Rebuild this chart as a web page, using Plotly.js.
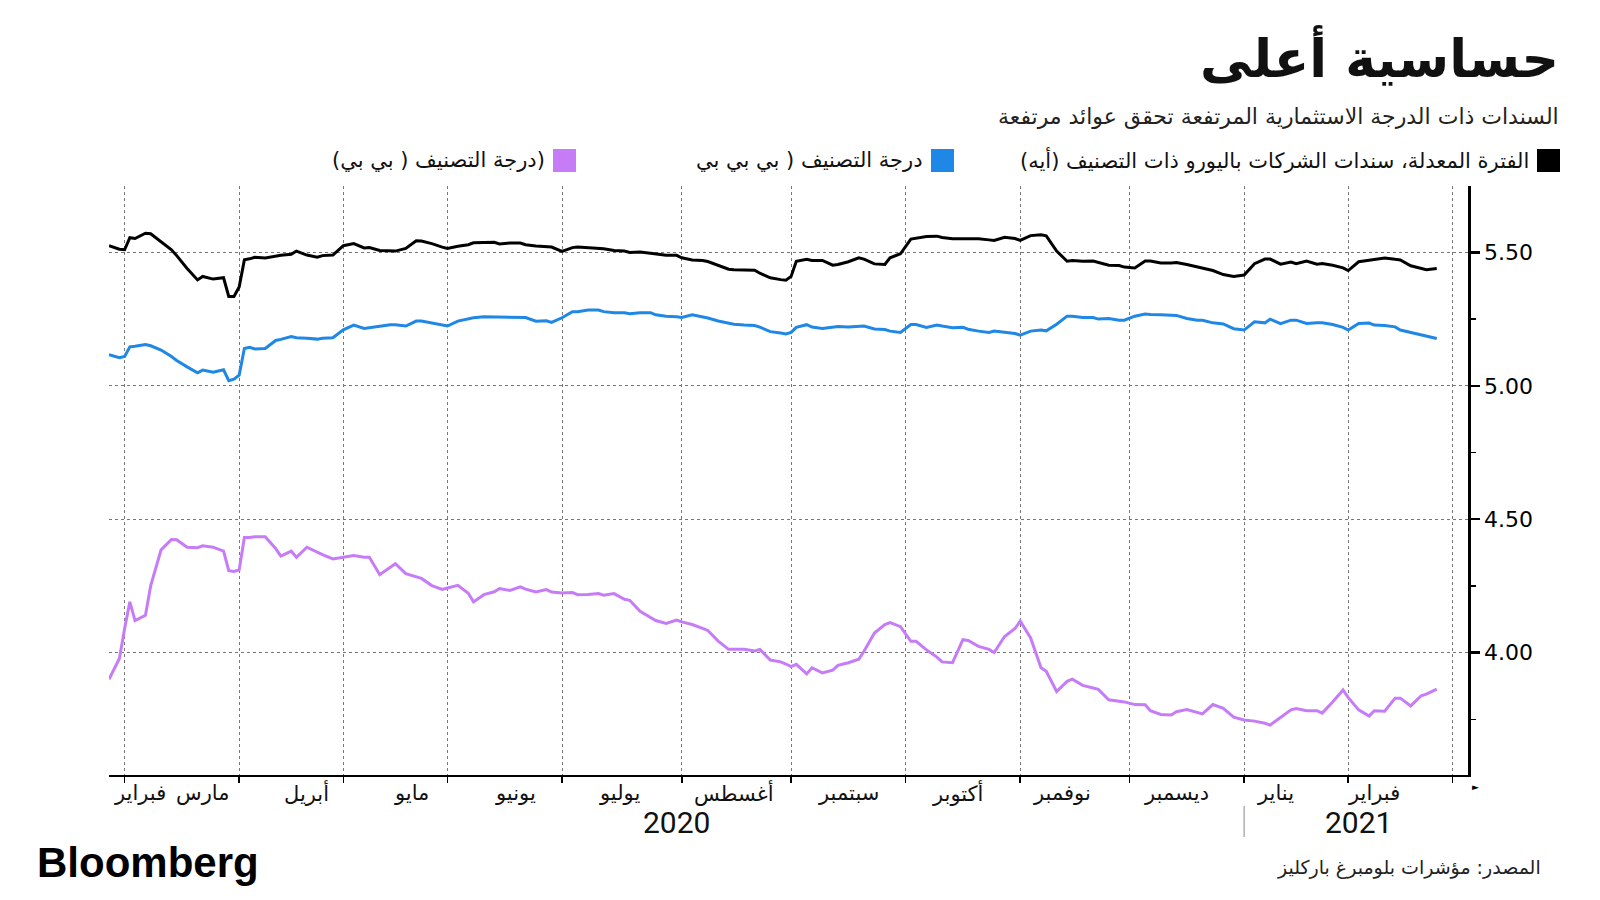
<!DOCTYPE html>
<html>
<head>
<meta charset="utf-8">
<script src="https://cdn.plot.ly/plotly-3.0.1.min.js"></script>
<style>
  html, body { margin: 0; padding: 0; background: #fff; }
  #chart { width: 1600px; height: 900px; }
</style>
</head>
<body>
<div id="chart"></div>
<script>
const dates = [
  '2020-02-26','2020-02-28',
  '2020-03-02','2020-03-03','2020-03-04','2020-03-06','2020-03-09','2020-03-11','2020-03-13','2020-03-16','2020-03-18','2020-03-20','2020-03-23','2020-03-25','2020-03-27','2020-03-30','2020-03-31',
  '2020-04-01','2020-04-02','2020-04-03','2020-04-06','2020-04-08','2020-04-14','2020-04-15','2020-04-17','2020-04-20','2020-04-22','2020-04-24','2020-04-27','2020-04-29',
  '2020-05-04','2020-05-06','2020-05-08','2020-05-11','2020-05-13','2020-05-15','2020-05-18','2020-05-20','2020-05-22','2020-05-25','2020-05-27','2020-05-29',
  '2020-06-01','2020-06-03','2020-06-05','2020-06-08','2020-06-10','2020-06-12','2020-06-15','2020-06-17','2020-06-19','2020-06-22','2020-06-24','2020-06-26','2020-06-29',
  '2020-07-01','2020-07-03','2020-07-06','2020-07-08','2020-07-10','2020-07-13','2020-07-15','2020-07-17','2020-07-20','2020-07-22','2020-07-24','2020-07-27','2020-07-29','2020-07-31',
  '2020-08-03','2020-08-05','2020-08-07','2020-08-10','2020-08-12','2020-08-14','2020-08-17','2020-08-19','2020-08-21','2020-08-24','2020-08-26','2020-08-28','2020-08-31',
  '2020-09-01','2020-09-02','2020-09-04','2020-09-07','2020-09-09','2020-09-11','2020-09-14','2020-09-16','2020-09-18','2020-09-21','2020-09-23','2020-09-25','2020-09-28','2020-09-30',
  '2020-10-02','2020-10-05','2020-10-07','2020-10-09','2020-10-12','2020-10-14','2020-10-16','2020-10-19','2020-10-21','2020-10-23','2020-10-26','2020-10-28','2020-10-30',
  '2020-11-02','2020-11-04','2020-11-06','2020-11-09','2020-11-11','2020-11-13','2020-11-16','2020-11-18','2020-11-20','2020-11-23','2020-11-25','2020-11-27','2020-11-30',
  '2020-12-02','2020-12-04','2020-12-07','2020-12-09','2020-12-11','2020-12-14','2020-12-16','2020-12-18','2020-12-21','2020-12-23','2020-12-28','2020-12-30',
  '2021-01-04','2021-01-06','2021-01-08','2021-01-11','2021-01-13','2021-01-15','2021-01-18','2021-01-20','2021-01-22','2021-01-25','2021-01-27','2021-01-29',
  '2021-02-01','2021-02-03','2021-02-05','2021-02-08','2021-02-10','2021-02-12','2021-02-15','2021-02-17','2021-02-19','2021-02-22','2021-02-24'
];

// A rated
const ratedA = [
  5.525, 5.512,
  5.51, 5.555, 5.552, 5.572, 5.57, 5.54, 5.51, 5.488, 5.44, 5.397, 5.41, 5.40, 5.405, 5.335, 5.335,
  5.37, 5.472, 5.476, 5.482, 5.479, 5.487, 5.489, 5.493, 5.505, 5.49, 5.482, 5.488, 5.49,
  5.525, 5.533, 5.517, 5.518, 5.507, 5.507, 5.505, 5.515, 5.544, 5.543, 5.533, 5.52,
  5.515, 5.523, 5.529, 5.536, 5.536, 5.538, 5.532, 5.535, 5.535, 5.529, 5.524, 5.52, 5.52,
  5.504, 5.518, 5.52, 5.518, 5.517, 5.514, 5.507, 5.505, 5.5, 5.502, 5.497, 5.494, 5.489, 5.489,
  5.48, 5.472, 5.47, 5.466, 5.451, 5.437, 5.435, 5.433, 5.433, 5.422, 5.405, 5.398, 5.396,
  5.41, 5.467, 5.474, 5.47, 5.47, 5.452, 5.455, 5.465, 5.48, 5.475, 5.457, 5.455, 5.48, 5.495,
  5.55, 5.554, 5.56, 5.561, 5.556, 5.551, 5.551, 5.551, 5.551, 5.547, 5.545, 5.557, 5.552,
  5.545, 5.563, 5.566, 5.562, 5.505, 5.467, 5.47, 5.467, 5.468, 5.462, 5.452, 5.451, 5.445,
  5.442, 5.468, 5.468, 5.46, 5.46, 5.462, 5.455, 5.446, 5.443, 5.432, 5.417, 5.41,
  5.415, 5.458, 5.475, 5.475, 5.456, 5.464, 5.458, 5.468, 5.456, 5.458, 5.452, 5.442,
  5.432, 5.465, 5.471, 5.474, 5.479, 5.474, 5.472, 5.45, 5.44, 5.435, 5.44
];

// BBB rated
const ratedBBB = [
  5.117, 5.105,
  5.11, 5.146, 5.148, 5.155, 5.15, 5.134, 5.11, 5.095, 5.071, 5.049, 5.059, 5.051, 5.06, 5.019, 5.025,
  5.04, 5.14, 5.144, 5.138, 5.14, 5.17, 5.174, 5.185, 5.18, 5.178, 5.175, 5.178, 5.18,
  5.21, 5.2275, 5.215, 5.217, 5.223, 5.229, 5.229, 5.224, 5.2425, 5.2425, 5.234, 5.228,
  5.224, 5.2425, 5.25, 5.255, 5.259, 5.258, 5.256, 5.256, 5.256, 5.256, 5.242, 5.244, 5.238,
  5.255, 5.2775, 5.2775, 5.284, 5.284, 5.278, 5.274, 5.274, 5.27, 5.274, 5.274, 5.266, 5.261, 5.259,
  5.256, 5.266, 5.259, 5.254, 5.243, 5.235, 5.231, 5.2275, 5.226, 5.22, 5.203, 5.198, 5.194,
  5.20, 5.219, 5.229, 5.22, 5.215, 5.22, 5.222, 5.22, 5.224, 5.224, 5.213, 5.211, 5.205, 5.2,
  5.23, 5.23, 5.219, 5.228, 5.224, 5.218, 5.219, 5.212, 5.205, 5.2, 5.205, 5.2, 5.196,
  5.19, 5.205, 5.209, 5.206, 5.231, 5.261, 5.261, 5.256, 5.256, 5.25, 5.2525, 5.246, 5.246,
  5.261, 5.269, 5.267, 5.266, 5.263, 5.264, 5.2525, 5.246, 5.246, 5.236, 5.232, 5.214,
  5.209, 5.24, 5.236, 5.25, 5.233, 5.246, 5.246, 5.234, 5.236, 5.236, 5.23, 5.219,
  5.209, 5.234, 5.235, 5.2275, 5.226, 5.221, 5.209, 5.2, 5.19, 5.188, 5.1775
];

// BB rated
const ratedBB = [
  3.90, 3.978,
  4.09, 4.19, 4.12, 4.14, 4.25, 4.385, 4.424, 4.423, 4.395, 4.393, 4.40, 4.395, 4.38, 4.307, 4.304,
  4.31, 4.431, 4.431, 4.434, 4.434, 4.39, 4.362, 4.38, 4.357, 4.395, 4.375, 4.367, 4.351,
  4.357, 4.364, 4.357, 4.357, 4.292, 4.32, 4.333, 4.296, 4.282, 4.278, 4.251, 4.237,
  4.242, 4.252, 4.222, 4.19, 4.217, 4.228, 4.24, 4.233, 4.246, 4.238, 4.227, 4.236, 4.227,
  4.223, 4.225, 4.217, 4.218, 4.221, 4.215, 4.221, 4.2, 4.196, 4.155, 4.13, 4.12, 4.109, 4.122,
  4.115, 4.105, 4.091, 4.083, 4.043, 4.012, 4.012, 4.012, 4.006, 4.012, 3.972, 3.965, 3.957,
  3.947, 3.956, 3.92, 3.943, 3.924, 3.934, 3.952, 3.962, 3.975, 4.005, 4.073, 4.105, 4.112, 4.097,
  4.042, 4.042, 4.01, 3.983, 3.965, 3.962, 4.048, 4.045, 4.023, 4.012, 4.0, 4.06, 4.09,
  4.118, 4.055, 3.943, 3.93, 3.854, 3.892, 3.9, 3.877, 3.867, 3.862, 3.823, 3.816, 3.815,
  3.805, 3.804, 3.782, 3.768, 3.766, 3.778, 3.786, 3.776, 3.77, 3.805, 3.791, 3.758,
  3.747, 3.743, 3.735, 3.728, 3.757, 3.785, 3.79, 3.782, 3.782, 3.773, 3.815, 3.86,
  3.831, 3.785, 3.762, 3.782, 3.78, 3.829, 3.829, 3.80, 3.838, 3.844, 3.863
];

const holidays = ['2020-04-10', '2020-04-13', '2020-05-01', '2020-12-25', '2021-01-01'];
const monthStarts = ['2020-03-02','2020-04-01','2020-05-04','2020-06-01','2020-07-01','2020-08-03',
  '2020-09-01','2020-10-01','2020-11-02','2020-12-01','2021-01-04','2021-02-01','2021-03-01'];
const monthNames = ['فبراير','مارس','أبريل','مايو','يونيو','يوليو','أغسطس','سبتمبر','أكتوبر','نوفمبر','ديسمبر','يناير','فبراير'];
const monthLabelAt = ['2020-03-05','2020-03-23','2020-04-22','2020-05-21','2020-06-18','2020-07-16','2020-08-17',
  '2020-09-16','2020-10-15','2020-11-12','2020-12-14','2021-01-12','2021-02-08'];
const years = ['2020', '2021'];
const yearLabelAt = ['2020-07-31', '2021-02-03'];
const yTicks = [4, 4.5, 5, 5.5];
const yMinor = [3.75, 4.25, 4.75, 5.25];

const seriesNames = [
  'الفترة المعدلة، سندات الشركات باليورو ذات التصنيف (أيه)',
  'درجة التصنيف ( بي بي بي',
  '(درجة التصنيف ( بي بي)'
];
const colors = ['#000000', '#1f87e5', '#c77cf7'];

// pixel helpers for the frame
const L = 109, R = 1468, T = 186, B = 775;
const fx = px => (px - L) / (R - L);
const fy = py => (B - py) / (B - T);
const rlm = s => '\u200F' + s + '\u200F';

const data = [ratedA, ratedBBB, ratedBB].map((ys, i) => ({
  type: 'scatter',
  mode: 'lines',
  x: dates,
  y: ys,
  line: { color: colors[i], width: 3 },
  showlegend: false,
  hoverinfo: 'skip'
}));

const annotations = [];
monthNames.forEach((m, i) => annotations.push({
  x: monthLabelAt[i], xref: 'x', y: fy(793), yref: 'paper',
  text: m, showarrow: false, xanchor: 'center', yanchor: 'middle',
  font: { family: 'DejaVu Sans', size: 21, color: '#111' }
}));
years.forEach((yr, i) => annotations.push({
  x: yearLabelAt[i], xref: 'x', y: fy(822), yref: 'paper',
  text: yr, showarrow: false, xanchor: 'center', yanchor: 'middle',
  font: { family: 'Liberation Sans Narrow, Roboto', size: 30, color: '#111' }
}));

// title, subtitle, source, logo
annotations.push(
  { x: fx(1561), y: fy(57), xref: 'paper', yref: 'paper', xanchor: 'right', yanchor: 'middle', showarrow: false,
    text: '<b>' + rlm('حساسية أعلى') + '</b>', font: { family: 'DejaVu Sans', size: 52, color: '#111' } },
  { x: fx(1561), y: fy(117), xref: 'paper', yref: 'paper', xanchor: 'right', yanchor: 'middle', showarrow: false,
    text: rlm('السندات ذات الدرجة الاستثمارية المرتفعة تحقق عوائد مرتفعة'), font: { family: 'DejaVu Sans', size: 22, color: '#222' } },
  { x: fx(1543), y: fy(867), xref: 'paper', yref: 'paper', xanchor: 'right', yanchor: 'middle', showarrow: false,
    text: rlm('المصدر: مؤشرات بلومبرغ باركليز'), font: { family: 'DejaVu Sans', size: 19, color: '#222' } },
  { x: fx(35), y: fy(862), xref: 'paper', yref: 'paper', xanchor: 'left', yanchor: 'middle', showarrow: false,
    text: '<b>Bloomberg</b>', font: { family: 'Liberation Sans', size: 42, color: '#000' } },
  { x: fx(1475), y: fy(787), xref: 'paper', yref: 'paper', xanchor: 'center', yanchor: 'middle', showarrow: false,
    text: '►', font: { family: 'DejaVu Sans', size: 9, color: '#000' } }
);

// legend: square on the right of each label
const legendSquareX = [1537, 931, 553];
const shapes = [];
seriesNames.forEach((name, i) => {
  const sx = legendSquareX[i];
  shapes.push({ type: 'rect', xref: 'paper', yref: 'paper',
    x0: fx(sx), x1: fx(sx + 23), y0: fy(172), y1: fy(149),
    fillcolor: colors[i], line: { width: 0 } });
  annotations.push({ x: fx(sx - 6), y: fy(160), xref: 'paper', yref: 'paper', xanchor: 'right', yanchor: 'middle',
    showarrow: false, text: rlm(name), font: { family: 'DejaVu Sans', size: 21, color: '#111' } });
});

// year separator below the axis
shapes.push({ type: 'line', xref: 'x', x0: '2021-01-04', x1: '2021-01-04', yref: 'paper', y0: fy(806), y1: fy(837),
  line: { color: '#888', width: 1 } });

const layout = {
  width: 1600,
  height: 900,
  paper_bgcolor: '#fff',
  plot_bgcolor: '#fff',
  margin: { l: L, r: 1600 - R, t: T, b: 900 - B, pad: 0 },
  showlegend: false,
  xaxis: {
    type: 'date',
    range: ['2020-02-26', '2021-03-04'],
    rangebreaks: [{ bounds: ['sat', 'mon'] }, { values: holidays }],
    tickmode: 'array',
    tickvals: monthStarts,
    showticklabels: false,
    ticks: 'outside', ticklen: 6, tickwidth: 1.5, tickcolor: '#000',
    showgrid: true, gridcolor: '#777', griddash: 'dot', gridwidth: 1,
    showline: true, linecolor: '#000', linewidth: 2,
    zeroline: false, fixedrange: true
  },
  yaxis: {
    side: 'right',
    range: [3.541, 5.749],
    tickmode: 'array',
    tickvals: yTicks,
    tickformat: '.2f',
    ticks: 'outside', ticklen: 9, tickwidth: 2.5, tickcolor: '#000',
    tickfont: { family: 'DejaVu Sans', size: 22, color: '#000' },
    showgrid: true, gridcolor: '#777', griddash: 'dot', gridwidth: 1,
    showline: true, linecolor: '#000', linewidth: 2.5,
    zeroline: false, fixedrange: true,
    minor: { tickmode: 'array', tickvals: yMinor, ticks: 'outside', ticklen: 5, tickwidth: 1.5, tickcolor: '#000', showgrid: false }
  },
  annotations: annotations,
  shapes: shapes
};

Plotly.newPlot('chart', data, layout, { staticPlot: true });
</script>
</body>
</html>
